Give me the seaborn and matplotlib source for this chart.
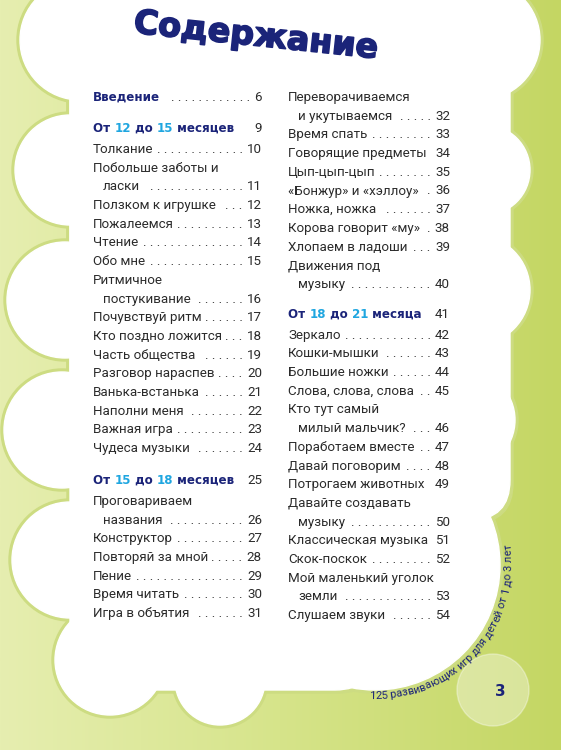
import numpy as np
import matplotlib.pyplot as plt
import matplotlib.patches as mpatches
import matplotlib.patheffects as pe
import seaborn as sns

sns.set_theme(style='white')
plt.rcParams['font.family'] = ['Roboto', 'DejaVu Sans']

NAVY = '#1b2479'
CYAN = '#1fa6e0'
TEXT = '#2b2b2b'

title = 'Содержание'
intro = ('Введение', '6')

# column 1
sec1 = ('От ', '12', ' до ', '15', ' месяцев', '9')
items1 = [('Толкание', '10'), ('Побольше заботы и\nласки', '11'), ('Ползком к игрушке', '12'),
          ('Пожалеемся', '13'), ('Чтение', '14'), ('Обо мне', '15'),
          ('Ритмичное\nпостукивание', '16'), ('Почувствуй ритм', '17'),
          ('Кто поздно ложится', '18'), ('Часть общества', '19'), ('Разговор нараспев', '20'),
          ('Ванька-встанька', '21'), ('Наполни меня', '22'), ('Важная игра', '23'),
          ('Чудеса музыки', '24')]
sec2 = ('От ', '15', ' до ', '18', ' месяцев', '25')
items2 = [('Проговариваем\nназвания', '26'), ('Конструктор', '27'), ('Повторяй за мной', '28'),
          ('Пение', '29'), ('Время читать', '30'), ('Игра в объятия', '31')]

# column 2
items3 = [('Переворачиваемся\nи укутываемся', '32'), ('Время спать', '33'),
          ('Говорящие предметы', '34'), ('Цып-цып-цып', '35'), ('«Бонжур» и «хэллоу»', '36'),
          ('Ножка, ножка', '37'), ('Корова говорит «му»', '38'), ('Хлопаем в ладоши', '39'),
          ('Движения под\nмузыку', '40')]
sec3 = ('От ', '18', ' до ', '21', ' месяца', '41')
items4 = [('Зеркало', '42'), ('Кошки-мышки', '43'), ('Большие ножки', '44'),
          ('Слова, слова, слова', '45'), ('Кто тут самый\nмилый мальчик?', '46'),
          ('Поработаем вместе', '47'), ('Давай поговорим', '48'), ('Потрогаем животных', '49'),
          ('Давайте создавать\nмузыку', '50'), ('Классическая музыка', '51'),
          ('Скок-поскок', '52'), ('Мой маленький уголок\nземли', '53'), ('Слушаем звуки', '54')]

footer = '125 развивающих игр для детей от 1 до 3 лет'
page_no = '3'

fig = plt.figure(figsize=(5.61, 7.5), dpi=100)
ax = fig.add_axes([0, 0, 1, 1])
ax.set_xlim(0, 561)
ax.set_ylim(750, 0)
ax.axis('off')

# background gradient
grad = np.linspace(0, 1, 256)[None, :]
cmap = sns.blend_palette(['#e6eeb0', '#d6e48a', '#c4d663'], as_cmap=True)
ax.imshow(grad, extent=[0, 561, 750, 0], cmap=cmap, aspect='auto', zorder=0)

# cloud
blobs = [(80, 40, 60), (70, 170, 55), (65, 300, 58), (62, 430, 58), (70, 560, 58),
         (110, 660, 55), (220, 680, 45), (480, 40, 60), (485, 170, 45), (475, 290, 55),
         (465, 420, 50), (375, 565, 125), (200, 10, 60), (340, 10, 60)]
boxes = [(70, -40, 440, 560), (70, -40, 305, 730)]
for grow, col in [(3, '#cddc82'), (0, 'white')]:
    z = 2 if grow == 0 else 1
    for cx, cy, r in blobs:
        ax.add_patch(mpatches.Circle((cx, cy), r + grow, color=col, zorder=z))
    for bx, by, bw, bh in boxes:
        ax.add_patch(mpatches.FancyBboxPatch((bx - grow, by - grow), bw + 2 * grow, bh + 2 * grow,
                                             boxstyle='round,pad=0,rounding_size=40',
                                             color=col, zorder=z))
ax.add_patch(mpatches.Circle((493, 690), 36, color='white', alpha=0.35, zorder=2))

fig.canvas.draw()
rend = fig.canvas.get_renderer()
FS = 9.6
HFS = 8.6


def width(t):
    return t.get_window_extent(rend).width


def put(x, y, s, **kw):
    kw.setdefault('fontsize', FS)
    kw.setdefault('color', TEXT)
    return ax.text(x, y, s, va='baseline', zorder=5, **kw)


probe = put(100, 100, '. ')
dot_w = width(probe)
probe.remove()


def entry(x0, xr, y, title, page, lh):
    lines = title.split('\n')
    for i, ln in enumerate(lines[:-1]):
        put(x0 + (10 if i > 0 else 0), y, ln)
        y += lh
    last = put(x0 + (10 if len(lines) > 1 else 0), y, lines[-1])
    num = put(xr, y, page, ha='right')
    xs = x0 + (10 if len(lines) > 1 else 0) + width(last) + 3
    xe = xr - width(num) - 1
    n = int((xe - xs) / dot_w)
    if n > 0:
        put(xe, y, '. ' * n, ha='right')
    return y + lh


def header(x0, xr, y, parts):
    x = x0
    for i, p in enumerate(parts[:-1]):
        c = CYAN if i % 2 else NAVY
        t = ax.text(x, y, p, fontsize=HFS, fontweight='bold', color=c, family='DejaVu Sans',
                    va='baseline', zorder=5)
        x += width(t)
    put(xr, y, parts[-1], ha='right')


LH = 18.7

# title
ax.text(256, 36, title, fontsize=24, fontweight='bold', color=NAVY, family='DejaVu Sans',
        ha='center', va='center', rotation=-6, zorder=5,
        path_effects=[pe.withStroke(linewidth=1.2, foreground=NAVY)])

# column 1
x0, xr = 93, 262
t = ax.text(x0, 101, intro[0], fontsize=HFS, fontweight='bold', color=NAVY,
            family='DejaVu Sans', va='baseline', zorder=5)
xs = x0 + width(t) + 5
num = put(xr, 101, intro[1], ha='right')
put(xr - width(num) - 1, 101, '. ' * int((xr - width(num) - 1 - xs) / dot_w), ha='right')
header(x0, xr, 132, sec1)
y = 153
for ti, pg in items1:
    y = entry(x0, xr, y, ti, pg, LH)
header(x0, xr, y + 13, sec2)
y = y + 34
for ti, pg in items2:
    y = entry(x0, xr, y, ti, pg, LH)

# column 2
x0, xr = 288, 450
y = 101
for ti, pg in items3:
    y = entry(x0, xr, y, ti, pg, LH)
header(x0, xr, y + 11, sec3)
y = y + 32
for ti, pg in items4:
    y = entry(x0, xr, y, ti, pg, LH)

# curved footer along circle, fitted between two angles
cx, cy, R = 376, 563, 136
a0, a1 = np.deg2rad(-93), np.deg2rad(8)
FFS = 8.0
ws = []
for ch in footer:
    tt = ax.text(100, 100, ch, fontsize=FFS, color=NAVY)
    ws.append(width(tt))
    tt.remove()
scale = (a1 - a0) * R / sum(ws)
ang = a0
for ch, w in zip(footer, ws):
    w = w * scale
    a = ang + (w / 2) / R
    px = cx + R * np.cos(a)
    py = cy - R * np.sin(a)
    ax.text(px, py, ch, fontsize=FFS, color=NAVY, rotation=np.rad2deg(a) + 90,
            rotation_mode='anchor', ha='center', va='baseline', zorder=5)
    ang += w / R

ax.text(500, 692, page_no, fontsize=11, fontweight='bold', color=NAVY, family='DejaVu Sans',
        ha='center', va='center', zorder=5)

fig.savefig('out.png', dpi=100)
